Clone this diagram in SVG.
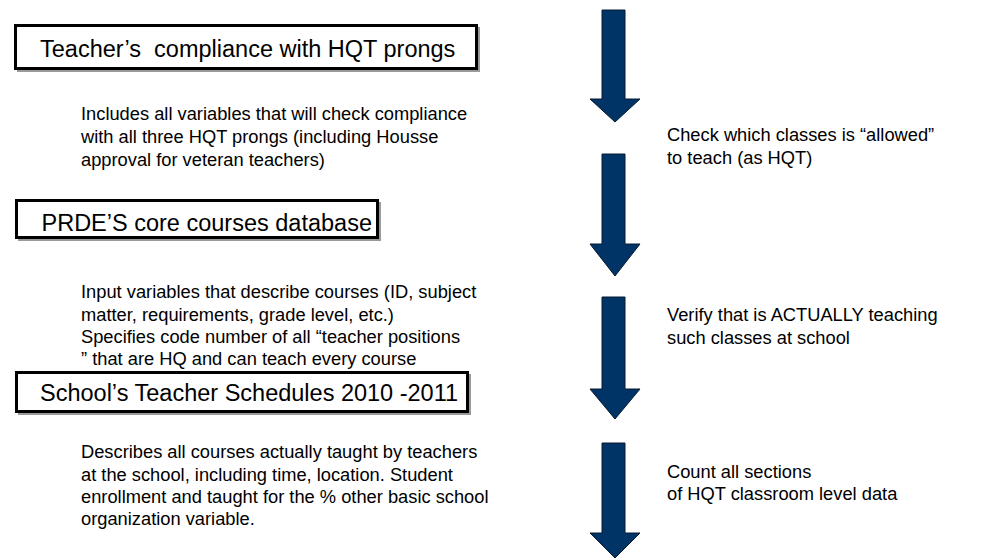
<svg xmlns="http://www.w3.org/2000/svg" width="983" height="559" viewBox="0 0 983 559">
  <style>
    .box { fill: #ffffff; stroke: #000000; stroke-width: 3; }
    .shadow { fill: #9a9a9a; }
    .title { font-family: "Liberation Sans", Arial, sans-serif; font-size: 23.5px; fill: #000000; }
    .desc { font-family: "Liberation Sans", Arial, sans-serif; font-size: 18.3px; fill: #000000; }
    .arrow { fill: #003366; stroke: #0b1a30; stroke-width: 1; }
  </style>
  <rect width="983" height="559" fill="#ffffff"/>

  <!-- Step 1 -->
  <g id="node-teacher-compliance">
    <rect class="shadow" x="17" y="27" width="463" height="45"/>
    <rect class="box" x="15.5" y="25.5" width="461" height="43"/>
    <text class="title" x="40" y="57">Teacher’s&#160; compliance with HQT prongs</text>
  </g>
  <g id="note-teacher-compliance">
    <text class="desc" x="81" y="120">Includes all variables that will check compliance</text>
    <text class="desc" x="81" y="143">with all three HQT prongs (including Housse</text>
    <text class="desc" x="81" y="166">approval for veteran teachers)</text>
  </g>

  <!-- Step 2 -->
  <g id="node-prde-courses">
    <rect class="shadow" x="18" y="202" width="363" height="39"/>
    <rect class="box" x="16.5" y="200.5" width="361" height="37"/>
    <text class="title" x="41.5" y="230.5">PRDE’S core courses database</text>
  </g>
  <g id="note-prde-courses">
    <text class="desc" x="81" y="298">Input variables that describe courses (ID, subject</text>
    <text class="desc" x="81" y="321">matter, requirements, grade level, etc.)</text>
    <text class="desc" x="81" y="343">Specifies code number of all “teacher positions</text>
    <text class="desc" x="81" y="365">” that are HQ and can teach every course</text>
  </g>

  <!-- Step 3 -->
  <g id="node-school-schedules">
    <rect class="shadow" x="18" y="374" width="453" height="41"/>
    <rect class="box" x="16.5" y="372.5" width="451" height="39"/>
    <text class="title" x="40" y="401">School’s Teacher Schedules 2010 -2011</text>
  </g>
  <g id="note-school-schedules">
    <text class="desc" x="81" y="458">Describes all courses actually taught by teachers</text>
    <text class="desc" x="81" y="481">at the school, including time, location. Student</text>
    <text class="desc" x="81" y="503">enrollment and taught for the % other basic school</text>
    <text class="desc" x="81" y="525">organization variable.</text>
  </g>

  <!-- Flow arrows -->
  <g id="connectors">
    <polygon class="arrow" points="602,10 625,10 625,99 640,99 615,122 590,99 602,99"/>
    <polygon class="arrow" points="602,154 625,154 625,244 640,244 615,276 590,244 602,244"/>
    <polygon class="arrow" points="602,297 625,297 625,389 640,389 615,419 590,389 602,389"/>
    <polygon class="arrow" points="602,443 625,443 625,533 640,533 615,558 590,533 602,533"/>
  </g>

  <!-- Side notes -->
  <g id="note-check">
    <text class="desc" x="667" y="141">Check which classes is “allowed”</text>
    <text class="desc" x="667" y="164">to teach (as HQT)</text>
  </g>
  <g id="note-verify">
    <text class="desc" x="667" y="321">Verify that is ACTUALLY teaching</text>
    <text class="desc" x="667" y="344">such classes at school</text>
  </g>
  <g id="note-count">
    <text class="desc" x="667" y="478">Count all sections</text>
    <text class="desc" x="667" y="500">of HQT classroom level data</text>
  </g>
</svg>
